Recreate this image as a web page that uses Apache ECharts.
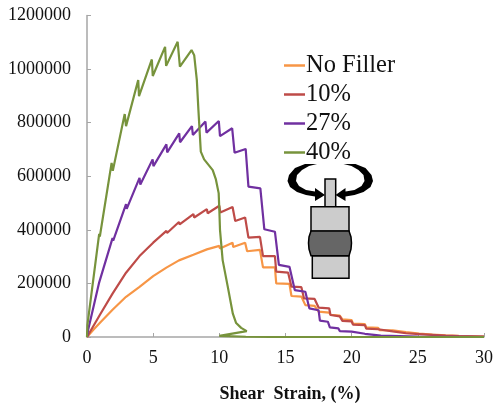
<!DOCTYPE html>
<html><head><meta charset="utf-8">
<style>html,body{margin:0;padding:0;background:#fff}#c{width:493px;height:403px}</style>
<script src="https://cdn.jsdelivr.net/npm/echarts@6/dist/echarts.min.js"></script>
</head><body><div id="c"></div>
<script>
const seriesNames = ['No Filler', '10%', '27%', '40%'];
const seriesColors = ['#f79646', '#be4b48', '#7030a0', '#77933c'];
const xTickStep = 5, yTickStep = 200000;
const noFiller = [[0,0],[0.5,28000],[1,54000],[1.93,102000],[2.95,150000],[3,148000],[3.97,187000],[4,185000],[5,227000],[5.05,224000],[6,259000],[6.05,255000],[6.95,286000],[7,282000],[8.04,307000],[8.1,302000],[9.06,327000],[9.12,320000],[10,340000],[10.05,330000],[11,352000],[11.05,336000],[11.95,352000],[12.1,320000],[13.07,325000],[13.3,260000],[14.2,260000],[14.3,200000],[15.3,198000],[15.45,153000],[16.2,151000],[16.5,119000],[17.2,116000],[17.5,95000],[18.3,91000],[18.4,83000],[19.1,80000],[19.3,66000],[20,63000],[20.1,50000],[21,48000],[21.1,36000],[22,34000],[22.1,26000],[23.1,25000],[23.2,19000],[24.1,18000],[24.2,14000],[25.1,13000],[25.2,10000],[26.1,9000],[26.2,7000],[27.1,6500],[27.2,5000],[28.1,4500],[30,2000]];
const filler10 = [[0,0],[1,85000],[1.93,162000],[2.95,240000],[3,236000],[3.97,302000],[4,297000],[5,352000],[5.05,346000],[6,396000],[6.05,388000],[6.95,429000],[7,420000],[8.04,459000],[8.1,446000],[9.06,477000],[9.12,462000],[10,490000],[10.07,465000],[11,485000],[11.2,433000],[11.95,446000],[12.2,371000],[13.07,374000],[13.3,302000],[14.2,302000],[14.3,244000],[15.2,240000],[15.45,188000],[16.2,186000],[16.4,144000],[17.2,142000],[17.5,110000],[18.3,107000],[18.4,82000],[19.1,77000],[19.3,60000],[20,58000],[20.1,46000],[21,44000],[21.1,31000],[22,29000],[22.1,22000],[23.1,21000],[23.2,15000],[24.1,14000],[24.2,12000],[25.1,11000],[25.2,9000],[26.1,8000],[26.2,6000],[27.1,5000],[27.2,4000],[28.1,3500],[28.2,2500],[30,1000]];
const filler27 = [[0,0],[0.08,25000],[0.9,200000],[1.93,369000],[1.98,360000],[2.95,496000],[3,478000],[3.97,594000],[4.03,569000],[4.96,663000],[5.02,638000],[6,719000],[6.06,689000],[6.97,760000],[7.03,727000],[7.93,787000],[8,754000],[8.95,804000],[9.03,763000],[9.96,806000],[10.05,750000],[10.97,779000],[11.15,688000],[11.99,702000],[12.2,561000],[13.1,555000],[13.4,402000],[14.2,393000],[14.5,269000],[15.3,262000],[15.7,175000],[16.5,169000],[16.8,107000],[17.5,100000],[17.6,61000],[18.2,57000],[18.35,36000],[19,32000],[19.1,22000],[20,20000],[20.1,14000],[21,12000],[21.1,7500],[22.2,5000],[25,1500],[30,200]];
const filler40 = [[0,0],[0.03,44000],[0.92,385000],[0.97,375000],[1.86,650000],[1.95,620000],[2.85,832000],[2.95,787000],[3.87,959000],[3.93,899000],[4.9,1036000],[4.97,974000],[5.9,1083000],[5.98,1012000],[6.85,1102000],[7.02,1009000],[7.9,1071000],[8.1,1052000],[8.3,959000],[8.42,847000],[8.6,692000],[8.85,663000],[9.5,623000],[9.74,588000],[9.95,537000],[10,475000],[10.05,400000],[10.25,287000],[10.64,187000],[11.02,87000],[11.27,52000],[11.65,34000],[12.07,22000],[10,4000],[12,1000],[15,0],[30,0]];
const seriesData = [noFiller, filler10, filler27, filler40];

const chart = echarts.init(document.getElementById('c'), null, {renderer:'canvas'});
const serif = '"Liberation Serif","Times New Roman",serif';
const axisLine = {lineStyle:{color:'#a6a6a6', width:1.5}};
const axisTick = {inside:true, length:4, lineStyle:{color:'#a6a6a6', width:1}};
const skin = {fill:'#cccccc', stroke:'#000', lineWidth:1.5};
const arrowL = [[317,164],[305,164],[295,168],[289,175],[287.5,181],[290,187],[297,192],[306,195],[315,196.5],[315,201],[325,195],[315,188],[315,191.5],[306,190],[299,186],[296,181],[297,175],[302,170],[309,166]];
const arrowR = arrowL.map(p=>[660.5-p[0], p[1]]);
const barrel = [[311,231],[349,231],[351,237],[351.5,243],[351,249],[349,255.7],[311,255.7],[309,249],[308.5,243],[309,237]];
chart.setOption({
  animation:false,
  backgroundColor:'#fff',
  grid:{left:87, top:15.5, right:9, bottom:66, containLabel:false, outerBoundsMode:'none'},
  xAxis:{type:'value', min:0, max:30, interval:xTickStep,
    axisLine:{show:true, ...axisLine}, axisTick:{show:true, ...axisTick}, splitLine:{show:false},
    axisLabel:{fontFamily:serif, fontSize:18, color:'#111', margin:12, formatter:v=>String(v)},
    name:'Shear  Strain, (%)', nameLocation:'middle', nameGap:48,
    nameTextStyle:{fontFamily:serif, fontSize:18, fontWeight:'bold', color:'#111', padding:[0,0,0,9]}},
  yAxis:{type:'value', min:0, max:1200000, interval:yTickStep,
    axisLine:{show:true, ...axisLine}, axisTick:{show:true, ...axisTick}, splitLine:{show:false},
    axisLabel:{fontFamily:serif, fontSize:18, color:'#111', margin:16, padding:[3,0,0,0], formatter:v=>String(v)}},
  legend:{orient:'vertical', left:279, top:48, itemWidth:21, itemHeight:2.5, itemGap:4,
    data:seriesNames, icon:'rect', selectedMode:false,
    textStyle:{fontFamily:serif, fontSize:24.5, color:'#111', padding:[0,0,0,-4], lineHeight:24}},
  series:seriesNames.map((n,i)=>({name:n, type:'line', data:seriesData[i], showSymbol:false, smooth:false,
    lineStyle:{color:seriesColors[i], width:2.2}, itemStyle:{color:seriesColors[i]}, z:i+2})),
  graphic:[
    {type:'polygon', shape:{points:arrowL}, style:{fill:'#000'}, z:20},
    {type:'polygon', shape:{points:arrowR}, style:{fill:'#000'}, z:20},
    {type:'rect', shape:{x:325,y:179,width:10.7,height:28}, style:skin, z:21},
    {type:'rect', shape:{x:311,y:206.7,width:38,height:24.5}, style:skin, z:21},
    {type:'rect', shape:{x:312.3,y:255.7,width:36.7,height:22.6}, style:skin, z:21},
    {type:'polygon', shape:{points:barrel}, style:{fill:'#666666', stroke:'#000', lineWidth:1.5}, z:22}
  ]
});
</script></body></html>
